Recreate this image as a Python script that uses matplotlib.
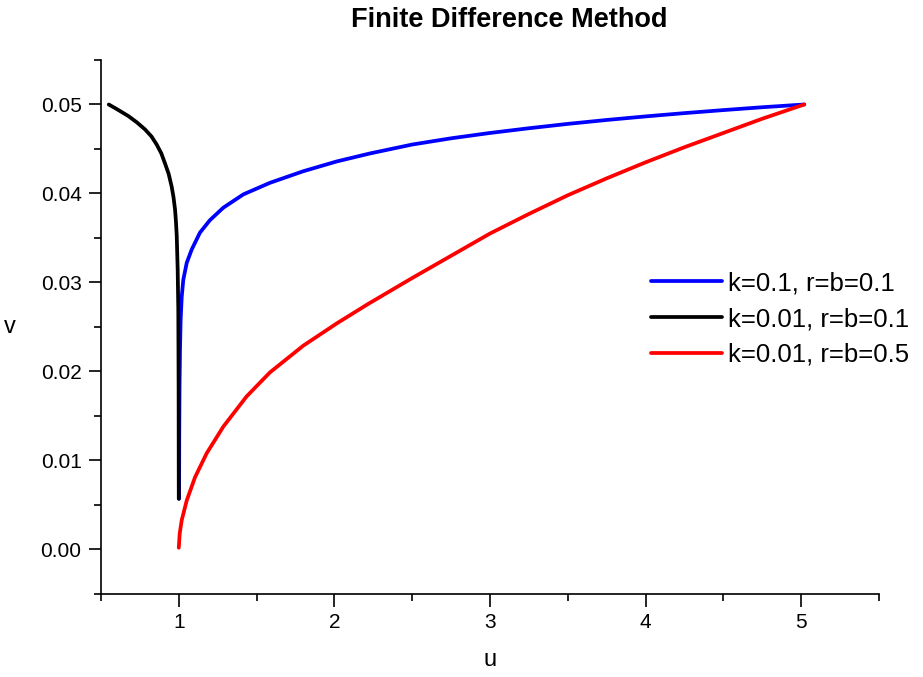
import matplotlib
matplotlib.use("Agg")
import matplotlib.pyplot as plt
from matplotlib.ticker import MultipleLocator

plt.rcParams['font.family'] = ['Liberation Sans', 'DejaVu Sans']

# k=0.1, r=b=0.1
u_blue = [1.002, 1.003, 1.005, 1.008, 1.012, 1.019, 1.029, 1.051, 1.083,
          1.136, 1.2, 1.286, 1.415, 1.586, 1.8, 2.015, 2.229, 2.5, 2.75,
          3.0, 3.25, 3.5, 3.75, 4.0, 4.25, 4.5, 4.75, 5.02]
v_blue = [0.0057, 0.0126, 0.0185, 0.0225, 0.0258, 0.0284, 0.0303, 0.0322,
          0.0337, 0.0356, 0.0370, 0.0384, 0.0399, 0.0412, 0.0425, 0.0436,
          0.0445, 0.0455, 0.0462, 0.0468, 0.04733, 0.04782, 0.04826,
          0.04866, 0.04903, 0.04937, 0.04969, 0.0500]

# k=0.01, r=b=0.1
u_black = [0.55, 0.6, 0.676, 0.73, 0.783, 0.825, 0.858, 0.888, 0.911, 0.935,
           0.954, 0.966, 0.976, 0.982, 0.987, 0.993, 0.997, 0.999, 1.0]
v_black = [0.0500, 0.0495, 0.0487, 0.0480, 0.0472, 0.0464, 0.0455, 0.0445,
           0.0434, 0.0422, 0.0408, 0.0396, 0.0382, 0.0368, 0.0352, 0.0314,
           0.0269, 0.0180, 0.0057]

# k=0.01, r=b=0.5
u_red = [1.0, 1.006, 1.019, 1.051, 1.104, 1.179, 1.286, 1.436, 1.586, 1.8,
         2.015, 2.218, 2.5, 2.75, 3.0, 3.25, 3.5, 3.75, 4.0, 4.25, 4.5, 4.75,
         5.02]
v_red = [0.0002, 0.0018, 0.0033, 0.0055, 0.0081, 0.0108, 0.0138, 0.0172,
         0.0199, 0.0229, 0.0254, 0.0276, 0.0305, 0.0330, 0.0355, 0.0377,
         0.0398, 0.0417, 0.0435, 0.0452, 0.0468, 0.0484, 0.0500]

labels = ['k=0.1, r=b=0.1', 'k=0.01, r=b=0.1', 'k=0.01, r=b=0.5']

fig = plt.figure(figsize=(9.23, 6.77), dpi=100)
ax = fig.add_axes([0.1094, 0.1226, 0.8429, 0.7888])

style = dict(lw=2.7, solid_capstyle='round', solid_joinstyle='round')
ax.plot(u_blue, v_blue, color='#0000ff', label=labels[0], **style)
ax.plot(u_black, v_black, color='black', label=labels[1], **style)
ax.plot(u_red, v_red, color='#ff0000', label=labels[2], **style)

ax.set_xlim(0.5, 5.5)
ax.set_ylim(-0.005, 0.055)
ax.xaxis.set_major_locator(MultipleLocator(1))
ax.xaxis.set_minor_locator(MultipleLocator(0.5))
ax.yaxis.set_major_locator(MultipleLocator(0.01))
ax.yaxis.set_minor_locator(MultipleLocator(0.005))
ax.set_xticks([1, 2, 3, 4, 5])
ax.yaxis.set_major_formatter(lambda y, pos: f'{y:.2f}')

for side in ['top', 'right']:
    ax.spines[side].set_visible(False)
for side in ['left', 'bottom']:
    ax.spines[side].set_linewidth(1.2)

ax.tick_params(which='major', direction='out', length=9, width=1.2,
               labelsize=15, pad=5)
ax.tick_params(which='minor', direction='out', length=5, width=1.2)

ax.set_xlabel('u', fontsize=17, labelpad=12)
ax.set_ylabel('v', fontsize=17, rotation=0, labelpad=22, va='center')
fig.text(509 / 923, 1 - 20 / 677, 'Finite Difference Method', fontsize=19.5,
         fontweight='bold', ha='center', va='center')

leg = ax.legend(loc='center left', bbox_to_anchor=(651 / 923, 1 - 319 / 677),
                bbox_transform=fig.transFigure, frameon=False, fontsize=18.5,
                handlelength=2.76, handletextpad=0.23, labelspacing=0.45,
                borderpad=0, borderaxespad=0)
for line in leg.get_lines():
    line.set_linewidth(2.7)

fig.savefig('out.png', dpi=100)
